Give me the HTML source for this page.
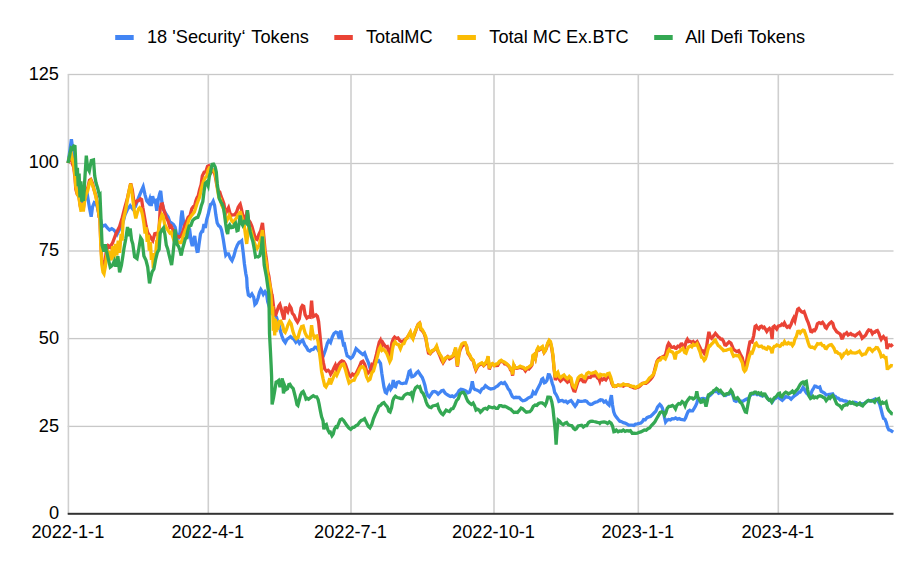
<!DOCTYPE html>
<html><head><meta charset="utf-8"><title>Chart</title>
<style>html,body{margin:0;padding:0;background:#fff;}body{width:922px;height:570px;position:relative;overflow:hidden;font-family:"Liberation Sans",sans-serif;}</style>
</head><body>
<svg width="922" height="570" viewBox="0 0 922 570" style="position:absolute;left:0;top:0;font-family:'Liberation Sans',sans-serif;font-size:18.2px;fill:#000">
<rect width="922" height="570" fill="#fff"/>
<rect x="67.7" y="73.85" width="825.8000000000001" height="1.3" fill="#c8c8c8"/>
<rect x="67.7" y="162.85" width="825.8000000000001" height="1.3" fill="#c8c8c8"/>
<rect x="67.7" y="250.35" width="825.8000000000001" height="1.3" fill="#c8c8c8"/>
<rect x="67.7" y="337.95000000000005" width="825.8000000000001" height="1.3" fill="#c8c8c8"/>
<rect x="67.7" y="425.75" width="825.8000000000001" height="1.3" fill="#c8c8c8"/>
<rect x="67.60000000000001" y="74.5" width="1.6" height="439.29999999999995" fill="#cfcfcf"/>
<rect x="207.5" y="74.5" width="1.6" height="439.29999999999995" fill="#cfcfcf"/>
<rect x="350.2" y="74.5" width="1.6" height="439.29999999999995" fill="#cfcfcf"/>
<rect x="493.2" y="74.5" width="1.6" height="439.29999999999995" fill="#cfcfcf"/>
<rect x="637.5" y="74.5" width="1.6" height="439.29999999999995" fill="#cfcfcf"/>
<rect x="777.5" y="74.5" width="1.6" height="439.29999999999995" fill="#cfcfcf"/>
<g fill="none" stroke-width="3.3" stroke-linejoin="miter" stroke-miterlimit="4.0" stroke-linecap="butt">
<path stroke="#4285f4" d="M68.1,163.0 L70.2,148.3 L71.4,139.1 L72.6,148.3 L74.0,152.4 L75.4,169.3 L76.7,182.5 L78.4,188.3 L80.2,197.6 L81.4,202.7 L82.8,205.1 L84.6,200.8 L86.3,188.3 L88.1,199.6 L89.5,208.0 L91.2,216.7 L92.5,207.0 L94.3,202.6 L96.0,203.5 L97.7,208.3 L99.5,216.8 L100.7,219.9 L102.0,226.9 L103.0,225.8 L105.3,225.2 L107.4,227.9 L109.5,229.9 L111.8,228.7 L113.5,229.7 L115.3,231.6 L117.0,234.4 L119.6,229.3 L122.3,225.0 L124.9,215.1 L127.5,209.3 L130.2,205.7 L132.8,209.1 L135.4,206.6 L138.1,198.8 L140.7,192.5 L143.2,186.7 L145.1,195.1 L146.8,201.0 L148.5,203.0 L149.8,199.1 L151.2,205.9 L152.6,196.2 L154.0,201.4 L155.3,200.6 L156.8,210.8 L158.2,200.1 L159.6,194.0 L160.7,190.9 L161.9,202.2 L163.7,209.7 L166.3,214.5 L168.1,217.1 L169.8,221.7 L171.6,223.0 L173.3,224.3 L175.1,227.1 L176.8,235.3 L178.5,237.5 L180.0,232.5 L181.2,216.9 L182.1,210.6 L183.0,217.6 L184.3,227.8 L185.5,228.3 L187.0,233.4 L188.2,236.0 L190.0,232.5 L191.2,241.8 L192.3,246.1 L193.5,239.8 L194.7,235.9 L195.8,244.7 L197.1,251.4 L198.1,251.3 L199.3,242.2 L200.5,233.9 L201.9,231.3 L202.7,231.2 L204.0,224.0 L205.3,227.9 L206.7,219.5 L208.1,214.8 L209.3,209.5 L210.6,204.4 L211.9,203.7 L213.2,201.2 L214.6,205.4 L215.8,214.6 L217.2,222.9 L218.6,225.6 L220.4,227.1 L221.6,230.1 L223.3,239.5 L224.6,248.0 L225.8,255.1 L226.9,253.8 L228.5,253.9 L230.4,258.5 L232.0,260.6 L233.9,255.9 L235.6,249.5 L237.4,244.9 L239.1,242.3 L239.8,241.9 L240.4,242.0 L241.7,240.8 L243.2,252.6 L244.4,263.7 L245.8,273.6 L246.7,277.9 L247.2,287.6 L248.4,295.0 L250.1,296.3 L251.9,294.0 L253.7,297.2 L254.9,304.5 L256.3,303.1 L258.1,298.0 L259.5,292.4 L260.8,289.5 L261.9,291.3 L263.3,294.4 L265.1,291.7 L266.5,293.6 L267.7,301.7 L269.5,307.4 L271.2,311.2 L273.0,314.4 L274.7,315.3 L276.5,317.1 L277.7,321.6 L279.1,325.2 L280.5,331.4 L281.8,335.8 L283.5,340.2 L285.3,342.6 L287.0,339.3 L288.8,338.0 L290.5,336.6 L292.3,338.3 L294.0,339.4 L295.8,342.2 L297.5,340.0 L299.4,343.3 L301.1,341.2 L302.7,340.0 L304.6,344.7 L306.3,346.9 L308.1,350.3 L309.8,351.1 L311.6,349.5 L313.3,349.4 L315.1,347.2 L316.7,347.3 L318.6,350.9 L320.4,352.0 L322.1,352.9 L323.8,354.7 L325.6,349.4 L327.4,343.1 L328.7,340.7 L329.8,341.7 L330.5,342.5 L332.3,337.0 L334.0,333.6 L335.8,332.1 L337.5,332.8 L339.3,338.7 L340.7,330.6 L341.9,336.9 L343.4,344.5 L344.4,344.1 L346.0,351.3 L347.2,356.0 L348.9,356.9 L350.7,358.4 L352.5,357.0 L354.2,353.6 L356.1,348.6 L357.7,350.1 L359.5,351.8 L361.2,353.3 L362.9,354.6 L364.6,352.9 L366.5,358.1 L368.2,362.1 L370.0,367.8 L371.7,368.7 L373.5,365.2 L375.3,363.0 L377.0,361.6 L378.7,360.7 L380.5,363.3 L381.8,373.3 L382.8,379.8 L384.0,387.2 L385.3,392.3 L386.5,393.1 L388.1,388.1 L389.2,386.1 L390.6,389.3 L391.9,387.3 L393.3,380.0 L394.6,386.1 L395.7,386.7 L397.3,382.3 L398.9,381.8 L400.7,383.3 L402.5,383.6 L404.2,383.2 L405.9,383.2 L407.7,377.4 L409.1,371.6 L410.2,370.8 L411.8,376.8 L413.0,376.5 L414.7,375.3 L416.5,372.9 L418.2,371.4 L419.8,373.8 L420.5,375.0 L422.3,377.6 L423.7,381.2 L424.9,385.2 L426.1,390.9 L427.5,395.3 L429.3,396.9 L431.1,394.2 L432.8,391.8 L434.6,391.4 L436.3,392.2 L438.1,394.1 L439.8,392.6 L441.6,390.8 L443.3,390.4 L445.1,393.0 L446.8,394.4 L448.6,395.5 L450.4,396.5 L452.1,395.8 L453.9,396.9 L455.6,395.5 L457.4,393.7 L459.1,390.6 L460.9,389.3 L462.6,389.7 L464.4,390.3 L466.1,391.2 L467.9,392.8 L469.6,392.1 L471.1,387.9 L472.3,381.3 L473.5,387.8 L474.9,389.6 L476.7,390.0 L478.4,390.8 L480.1,392.1 L481.9,389.0 L483.7,388.1 L485.4,385.7 L487.2,387.1 L488.9,388.3 L490.7,389.1 L492.5,388.6 L494.2,388.3 L496.0,386.8 L497.7,385.9 L499.5,383.9 L501.2,382.6 L503.0,383.6 L504.6,382.6 L506.5,385.4 L508.2,388.9 L509.8,390.7 L510.5,392.6 L512.3,396.5 L514.0,397.8 L515.8,397.3 L517.5,397.5 L519.3,397.4 L521.1,399.5 L522.8,400.7 L524.6,400.4 L526.3,399.6 L528.1,398.1 L529.8,397.3 L531.5,396.6 L533.1,392.2 L534.3,393.8 L535.3,393.9 L536.8,390.5 L538.6,386.9 L540.4,383.5 L541.8,379.3 L542.8,378.6 L544.4,382.7 L545.6,382.1 L547.0,380.3 L548.3,374.7 L549.4,374.8 L550.9,378.4 L552.3,383.5 L553.5,386.7 L554.7,392.6 L556.1,394.5 L557.5,397.3 L558.9,401.3 L560.5,400.7 L562.3,400.4 L564.0,401.7 L565.8,401.2 L567.5,402.8 L569.3,401.3 L571.0,400.5 L572.3,402.2 L573.7,404.4 L575.1,406.3 L576.3,404.7 L578.2,400.8 L579.8,401.4 L581.6,401.3 L583.3,401.1 L585.1,400.8 L586.8,401.5 L588.6,403.5 L590.4,404.5 L592.1,404.1 L593.9,402.9 L595.6,402.2 L597.4,401.8 L599.1,400.5 L599.8,400.7 L600.6,399.7 L602.3,400.0 L604.0,402.1 L605.7,401.0 L607.5,403.7 L609.1,405.2 L610.7,398.3 L611.4,395.1 L612.5,405.0 L613.7,411.8 L614.9,415.0 L616.3,416.9 L618.1,419.3 L619.8,421.2 L621.6,421.7 L623.3,422.7 L625.1,423.1 L626.8,423.9 L628.6,425.2 L630.4,425.2 L632.1,425.1 L633.9,425.4 L635.6,424.1 L637.4,423.8 L639.1,423.4 L640.9,423.0 L642.3,421.8 L643.6,419.6 L645.3,419.8 L647.0,417.6 L648.8,416.9 L650.5,416.4 L652.3,414.8 L654.0,413.0 L655.8,411.3 L657.5,407.2 L658.8,405.6 L659.8,404.4 L661.1,405.8 L662.3,408.0 L663.3,411.1 L664.6,417.8 L665.6,422.0 L666.8,420.4 L668.6,419.5 L670.4,419.9 L672.1,418.7 L673.9,418.9 L675.6,417.9 L677.4,419.2 L679.1,418.6 L680.9,419.3 L682.6,419.7 L684.3,419.9 L685.6,417.9 L686.8,414.7 L688.2,411.3 L689.7,410.3 L690.3,410.9 L691.4,410.9 L692.6,410.8 L694.0,408.7 L695.4,406.3 L696.7,403.3 L697.9,399.6 L699.3,398.8 L700.7,399.7 L701.9,398.6 L703.2,398.4 L704.6,398.8 L706.2,399.7 L708.1,396.5 L709.8,395.7 L711.6,393.9 L713.3,391.7 L715.1,391.7 L716.7,391.0 L718.6,393.3 L720.4,392.4 L722.1,393.3 L723.9,395.3 L725.6,395.5 L727.4,394.2 L729.1,394.1 L730.9,392.6 L732.6,394.3 L734.4,400.5 L736.1,401.4 L737.9,400.4 L739.6,400.9 L741.4,401.2 L743.2,401.2 L744.9,400.0 L746.7,399.0 L748.3,399.2 L750.2,395.6 L751.9,393.9 L753.7,394.1 L755.4,393.3 L757.2,394.6 L758.9,394.1 L760.7,395.5 L762.5,396.1 L764.2,395.4 L766.0,396.0 L767.7,398.6 L769.1,400.2 L770.4,400.8 L772.1,402.3 L773.9,399.4 L775.6,398.5 L777.4,396.4 L779.8,398.4 L780.5,399.0 L782.3,400.4 L784.0,398.7 L785.8,396.7 L787.5,397.2 L789.3,397.5 L791.1,399.2 L792.5,397.7 L793.7,396.5 L794.9,395.5 L796.3,394.7 L797.7,393.6 L798.9,392.2 L800.1,392.2 L801.6,390.0 L803.0,387.5 L804.2,389.0 L805.4,391.3 L806.8,393.3 L808.2,394.6 L809.5,395.4 L810.7,394.6 L812.1,390.6 L813.5,388.3 L814.8,386.0 L816.0,386.2 L817.4,387.3 L818.8,387.6 L819.8,387.1 L821.2,391.3 L822.6,392.0 L824.4,393.0 L826.1,394.9 L827.9,394.7 L829.6,394.4 L831.4,394.1 L832.7,393.9 L834.1,396.3 L835.3,396.4 L836.7,397.9 L838.4,398.3 L840.2,400.0 L841.9,400.0 L843.7,400.9 L845.4,401.0 L847.2,401.5 L848.9,402.8 L850.7,403.1 L852.5,403.0 L854.2,402.2 L856.0,402.5 L857.7,403.6 L859.5,404.4 L861.2,403.8 L863.0,404.0 L864.7,403.1 L866.5,401.8 L868.2,400.5 L869.8,400.8 L870.9,401.1 L871.8,400.4 L873.5,399.7 L875.3,398.9 L877.0,400.5 L878.2,401.2 L879.6,404.1 L881.1,409.5 L882.3,414.4 L883.5,418.4 L884.9,419.1 L886.3,422.4 L887.5,427.3 L888.8,429.9 L890.2,430.2 L891.8,431.3 L892.8,429.9"/>
<path stroke="#ea4335" d="M68.1,163.0 L70.2,156.7 L71.2,153.6 L72.3,163.6 L73.7,167.2 L74.9,176.7 L75.8,189.2 L77.2,194.2 L78.9,196.1 L80.2,205.8 L81.1,209.4 L82.1,204.4 L83.3,208.7 L84.6,198.7 L86.0,192.9 L87.7,188.1 L89.5,180.2 L90.8,179.4 L92.5,183.3 L94.2,190.4 L96.0,196.0 L97.7,206.1 L99.1,216.6 L99.8,216.7 L100.7,240.0 L101.8,259.7 L103.0,263.2 L104.1,265.0 L105.3,260.0 L106.3,251.0 L108.3,245.8 L110.0,247.2 L112.6,242.9 L116.1,233.4 L119.6,226.4 L122.3,217.4 L124.9,207.2 L127.5,197.9 L130.7,183.3 L132.3,189.7 L133.7,200.1 L135.2,203.8 L136.9,200.9 L138.6,200.6 L140.4,198.9 L141.6,199.6 L142.8,207.5 L144.2,215.3 L146.0,225.7 L147.7,232.7 L149.5,235.3 L151.2,238.4 L152.8,240.6 L154.8,233.7 L156.4,233.3 L157.7,235.1 L159.1,228.4 L160.2,208.8 L161.2,204.1 L162.4,203.9 L163.7,209.8 L164.9,213.2 L166.3,217.9 L168.1,221.0 L169.9,227.3 L171.2,226.3 L172.5,229.2 L174.2,234.4 L176.1,237.8 L177.7,236.2 L179.5,237.0 L181.2,235.8 L183.0,231.0 L184.7,225.6 L186.5,221.4 L188.2,217.3 L190.0,215.6 L191.8,208.8 L193.1,206.9 L194.2,207.3 L195.8,201.0 L197.0,197.8 L198.2,195.9 L199.6,189.6 L201.1,184.7 L202.3,175.9 L204.1,172.2 L205.7,172.0 L207.5,166.4 L208.7,165.7 L210.2,168.7 L211.6,171.8 L212.9,170.0 L213.9,170.4 L215.4,177.0 L216.8,185.1 L218.1,190.3 L219.8,192.1 L221.1,196.5 L222.5,199.9 L223.9,203.7 L225.1,211.1 L226.0,212.7 L227.4,209.7 L228.5,207.7 L229.8,212.5 L231.3,215.4 L233.0,214.8 L234.7,214.8 L236.5,212.2 L238.2,207.2 L239.8,204.7 L240.2,204.2 L241.4,208.9 L242.6,214.6 L244.0,217.8 L245.6,219.1 L247.2,210.4 L248.4,219.7 L250.2,222.3 L251.9,226.4 L253.7,232.6 L255.4,238.8 L257.1,239.6 L258.9,234.4 L260.7,230.6 L262.5,223.0 L263.7,235.2 L265.1,250.7 L266.5,259.9 L267.7,271.1 L268.9,276.2 L270.4,286.9 L271.8,294.5 L272.1,294.9 L273.5,306.3 L274.7,313.9 L275.9,314.6 L277.4,310.1 L278.8,306.1 L279.9,304.5 L281.2,309.0 L282.6,314.4 L284.0,319.5 L285.3,306.6 L286.5,309.6 L287.8,311.7 L289.7,305.9 L291.1,308.1 L292.3,313.3 L294.0,315.1 L295.8,319.4 L297.5,322.1 L299.3,318.8 L301.1,307.8 L302.4,305.5 L303.7,306.3 L305.1,314.6 L306.9,318.1 L308.6,316.9 L310.2,317.3 L311.6,300.6 L312.5,312.1 L313.5,316.5 L314.6,315.9 L316.0,314.9 L317.4,316.4 L318.6,321.5 L319.8,333.3 L320.9,344.6 L322.1,355.4 L323.3,362.4 L324.7,368.9 L326.5,371.2 L328.2,370.2 L329.8,371.8 L330.7,374.2 L332.3,371.7 L334.0,367.8 L335.3,365.3 L336.7,370.2 L338.4,364.4 L340.2,362.1 L341.9,360.8 L343.7,361.5 L345.4,364.5 L347.2,369.7 L348.9,374.6 L350.7,376.5 L352.5,374.0 L354.2,375.3 L356.0,373.6 L357.7,370.1 L359.5,366.5 L361.2,362.1 L362.9,361.2 L364.7,364.3 L366.5,370.8 L368.2,373.0 L370.0,371.0 L371.9,364.4 L373.4,365.3 L375.3,358.9 L376.5,354.2 L377.9,347.8 L379.3,342.1 L380.4,340.2 L381.8,345.5 L382.9,342.7 L384.0,344.5 L385.8,346.9 L387.3,346.5 L389.3,355.1 L390.5,351.2 L391.9,343.0 L393.3,338.8 L394.6,337.1 L396.3,338.5 L398.0,337.9 L399.8,340.6 L401.6,341.8 L403.3,340.9 L405.1,339.3 L406.8,338.1 L408.6,335.5 L410.3,332.4 L411.6,336.2 L412.9,338.1 L414.4,334.4 L415.6,331.0 L416.8,327.7 L418.2,324.2 L419.5,323.1 L420.0,324.9 L420.9,329.6 L422.3,330.8 L424.0,333.2 L425.8,338.4 L427.2,346.6 L428.5,353.0 L430.2,353.8 L431.9,351.6 L433.7,350.2 L435.4,348.6 L436.6,347.2 L438.1,351.8 L439.8,355.7 L441.6,360.4 L443.0,362.8 L444.2,360.8 L446.0,357.9 L447.7,356.6 L449.5,358.8 L451.2,357.9 L453.0,356.3 L454.7,351.6 L455.6,348.8 L456.5,359.5 L457.4,366.5 L458.8,354.7 L460.0,350.4 L461.8,346.5 L463.5,344.8 L465.3,344.4 L466.5,346.0 L467.9,353.4 L469.6,355.7 L471.4,359.1 L473.2,360.7 L474.6,366.3 L475.9,370.0 L477.0,367.8 L478.4,365.7 L480.2,364.4 L481.9,363.6 L483.7,365.6 L485.4,364.1 L486.8,363.1 L488.1,356.9 L489.3,369.4 L490.7,365.5 L492.5,364.0 L494.2,365.7 L496.0,365.7 L497.7,365.5 L499.5,362.2 L501.2,361.5 L503.0,361.6 L504.7,363.9 L506.5,364.2 L508.2,365.7 L509.8,367.6 L510.5,369.9 L511.8,370.8 L512.6,375.7 L513.7,364.7 L515.0,367.9 L516.7,368.3 L518.4,367.8 L520.2,367.3 L521.9,368.1 L523.7,368.4 L525.4,370.8 L527.3,368.2 L528.9,368.9 L530.7,366.9 L531.9,365.2 L533.0,356.5 L534.1,355.1 L535.4,358.4 L536.8,351.2 L538.2,348.4 L539.6,349.9 L541.2,348.8 L542.4,347.7 L544.1,352.4 L545.3,350.7 L546.5,347.9 L547.7,343.8 L549.1,341.2 L550.5,343.1 L551.8,348.8 L553.0,356.8 L554.0,368.1 L555.3,380.1 L556.5,377.0 L557.8,376.1 L559.3,379.5 L560.5,381.1 L562.3,379.3 L564.0,378.5 L565.8,380.4 L567.5,382.2 L569.3,380.6 L571.1,381.9 L572.3,386.8 L573.8,390.9 L575.0,391.1 L576.3,387.0 L578.1,381.3 L579.8,379.7 L581.6,379.4 L583.3,381.6 L585.0,381.7 L586.8,378.2 L588.6,377.2 L590.4,377.5 L592.1,375.4 L593.9,375.9 L595.5,374.7 L597.4,377.8 L599.1,379.1 L599.8,381.0 L600.7,378.0 L602.4,379.8 L604.0,378.6 L605.8,379.9 L607.5,377.1 L609.2,375.9 L610.7,379.1 L611.9,383.7 L613.3,386.2 L614.6,385.9 L616.3,386.3 L618.1,385.0 L619.8,385.5 L621.6,385.4 L623.3,386.1 L625.1,385.1 L626.8,384.6 L628.6,385.1 L630.4,386.4 L632.1,387.0 L633.9,387.8 L635.6,388.0 L637.4,387.3 L639.1,386.8 L640.9,385.0 L642.6,383.4 L644.4,383.1 L646.1,383.3 L647.9,382.0 L650.5,379.5 L652.3,377.1 L653.5,374.9 L654.6,370.2 L655.8,365.4 L657.0,361.1 L658.4,359.1 L660.2,357.7 L661.9,357.3 L663.7,356.3 L665.0,356.5 L666.3,351.8 L667.5,345.8 L668.7,343.3 L669.8,344.6 L671.1,347.2 L672.5,347.4 L673.9,346.8 L675.1,348.0 L676.2,348.3 L677.8,346.3 L679.4,346.9 L681.0,344.1 L682.0,344.0 L683.3,346.3 L684.5,347.7 L686.1,341.7 L687.4,339.4 L688.7,341.6 L689.8,341.2 L690.5,341.4 L691.9,342.5 L693.2,341.5 L694.5,343.0 L695.8,342.7 L697.1,341.6 L698.4,344.2 L700.2,347.8 L701.5,351.2 L702.7,350.9 L704.2,353.3 L705.4,351.2 L706.7,346.2 L707.7,338.9 L708.9,331.8 L710.2,336.9 L711.6,338.3 L713.0,336.6 L714.2,335.1 L715.4,333.4 L716.8,335.0 L718.2,336.8 L719.5,337.7 L720.7,339.1 L722.1,339.1 L723.5,341.3 L724.8,344.9 L726.0,345.2 L727.4,343.7 L729.1,341.9 L730.9,343.1 L732.3,346.4 L733.5,349.4 L735.3,350.6 L737.0,351.6 L738.7,350.8 L740.5,354.5 L742.3,357.8 L743.5,363.6 L744.7,367.3 L745.8,365.6 L747.0,358.2 L748.4,349.5 L749.9,341.9 L751.1,341.4 L752.1,341.9 L753.7,335.6 L755.1,326.5 L756.2,325.7 L757.5,328.0 L758.8,329.1 L760.4,326.6 L761.5,326.2 L762.9,327.8 L764.1,327.2 L765.6,329.4 L766.8,331.4 L768.1,329.6 L769.5,328.3 L770.9,330.0 L772.1,339.0 L773.0,327.2 L774.4,326.1 L775.6,327.7 L776.7,329.0 L778.2,326.2 L779.8,325.6 L780.5,325.6 L781.9,324.2 L783.1,325.0 L784.4,322.9 L785.8,325.7 L787.2,327.2 L788.4,326.3 L789.6,327.2 L791.1,324.3 L792.5,320.3 L793.7,317.9 L794.9,320.8 L796.3,314.4 L797.7,309.3 L798.8,308.5 L800.2,310.4 L801.6,311.9 L803.0,312.4 L804.1,311.7 L805.4,315.2 L806.8,319.5 L808.2,322.5 L809.5,326.6 L810.8,331.5 L812.0,331.8 L813.5,330.1 L814.6,330.6 L816.0,328.5 L817.4,323.7 L819.1,322.6 L820.9,323.6 L822.6,322.3 L824.0,324.2 L825.3,327.5 L826.4,328.3 L827.9,325.5 L829.6,323.4 L831.4,321.9 L832.8,323.3 L834.0,327.8 L835.3,329.6 L836.7,331.7 L838.4,332.8 L840.2,334.0 L841.7,338.2 L842.7,338.0 L844.1,334.2 L845.4,333.9 L846.7,332.7 L848.2,335.0 L849.3,334.4 L850.7,333.6 L852.1,334.8 L853.3,334.8 L855.1,335.9 L856.8,334.4 L858.6,333.2 L859.4,332.5 L860.9,335.1 L862.2,338.2 L863.9,336.8 L865.6,335.2 L867.4,331.7 L868.7,330.0 L869.8,330.4 L870.8,330.4 L872.4,333.7 L873.6,332.2 L874.7,332.3 L876.1,331.0 L877.4,330.5 L878.8,333.1 L880.0,336.7 L881.2,339.4 L882.3,337.7 L883.4,336.6 L885.0,338.9 L886.0,338.5 L887.0,348.9 L888.1,346.1 L889.3,345.0 L891.1,345.8 L892.8,344.2"/>
<path stroke="#fbbc04" d="M68.1,163.0 L70.2,153.6 L71.1,152.4 L72.3,159.2 L73.7,164.5 L74.9,174.6 L75.8,186.5 L77.2,193.6 L78.9,197.2 L80.2,206.6 L81.1,211.6 L82.1,203.3 L83.3,211.6 L84.6,201.0 L86.0,194.7 L87.7,190.7 L89.5,182.2 L90.8,180.6 L92.5,185.1 L94.2,190.2 L96.0,197.5 L97.7,206.2 L99.1,216.0 L99.8,215.8 L100.7,243.3 L101.8,264.6 L103.0,272.1 L104.0,273.7 L105.3,266.8 L106.3,258.8 L107.4,249.6 L108.4,260.1 L109.8,251.0 L111.2,260.4 L112.6,246.2 L114.0,258.6 L115.4,244.0 L116.8,255.3 L118.2,240.6 L119.6,252.8 L121.1,233.9 L122.1,240.6 L123.2,220.6 L125.8,209.5 L128.4,193.9 L130.7,183.7 L131.9,192.1 L133.3,203.2 L134.6,212.7 L135.8,218.4 L137.2,213.1 L138.6,208.9 L139.8,207.6 L141.1,209.0 L142.5,214.8 L143.9,223.5 L145.1,233.5 L146.1,227.2 L147.2,241.9 L148.2,234.9 L149.3,250.6 L150.4,242.1 L151.4,259.9 L152.5,253.1 L153.3,268.4 L154.4,254.1 L155.4,257.6 L156.7,241.6 L157.3,241.6 L158.6,229.6 L159.6,223.2 L160.2,219.9 L162.0,214.7 L163.2,216.5 L164.6,224.0 L166.3,227.6 L168.1,230.7 L169.8,233.0 L171.1,232.1 L172.5,235.9 L174.2,241.0 L176.0,243.0 L177.7,241.3 L179.5,242.7 L181.1,242.7 L183.0,236.8 L184.7,232.1 L186.5,227.5 L189.1,219.3 L191.8,215.2 L194.4,211.9 L197.0,203.7 L199.6,197.0 L201.4,188.9 L203.2,182.4 L204.9,178.2 L206.7,176.2 L208.1,170.2 L209.4,167.8 L210.5,168.0 L211.9,169.7 L213.7,170.4 L215.1,173.0 L216.3,179.1 L217.5,189.7 L218.9,197.5 L220.4,198.9 L221.6,204.9 L222.8,207.3 L224.2,210.3 L225.6,218.8 L226.8,220.6 L228.1,218.0 L229.2,215.3 L230.4,217.5 L231.6,220.6 L233.0,222.2 L234.7,220.2 L236.5,217.9 L238.2,214.4 L239.8,212.9 L240.2,211.2 L241.4,215.7 L242.6,220.3 L244.0,223.6 L245.4,234.5 L246.7,243.9 L247.5,237.0 L248.7,227.2 L250.2,228.3 L251.9,234.2 L253.7,240.6 L255.4,245.2 L257.2,248.4 L258.9,245.6 L260.7,238.9 L262.5,230.2 L263.7,242.2 L265.1,256.5 L266.5,263.9 L267.7,274.8 L268.9,280.6 L270.4,287.9 L271.2,298.8 L271.9,314.8 L272.6,306.4 L273.3,330.8 L274.0,317.6 L274.7,335.4 L275.4,319.0 L276.1,332.1 L276.8,321.7 L277.7,329.6 L279.2,321.7 L280.8,321.3 L282.6,325.1 L284.0,331.1 L285.2,332.3 L286.5,329.4 L287.9,325.0 L289.6,321.5 L291.1,323.7 L292.8,331.0 L294.6,336.3 L296.3,338.7 L298.1,337.2 L299.8,331.1 L301.6,326.5 L303.2,326.0 L305.1,333.0 L306.8,336.3 L308.6,337.7 L310.1,338.5 L311.6,325.3 L312.8,333.5 L314.3,337.6 L315.6,336.2 L316.7,336.0 L318.1,341.7 L319.1,350.1 L320.4,360.3 L321.6,371.5 L323.0,378.3 L324.7,385.6 L326.0,387.0 L327.4,384.3 L328.6,382.5 L329.8,378.1 L330.5,384.4 L332.3,379.8 L334.0,375.7 L335.3,373.2 L336.7,375.3 L338.4,371.6 L340.2,367.3 L341.9,364.6 L343.6,364.1 L345.4,369.7 L347.2,376.6 L349.1,382.9 L350.7,381.7 L352.5,380.5 L354.1,380.2 L356.0,375.9 L357.7,373.6 L359.5,369.4 L361.2,366.9 L363.0,366.8 L364.7,369.2 L366.5,376.8 L368.3,380.5 L370.0,379.2 L371.8,372.9 L373.5,370.9 L375.3,364.6 L376.5,359.8 L377.9,354.4 L379.3,348.8 L380.4,346.8 L381.9,350.3 L383.3,349.2 L384.9,350.8 L386.7,353.4 L388.4,357.6 L389.8,361.6 L391.1,359.1 L392.3,350.2 L393.7,343.7 L395.1,341.8 L396.8,344.2 L398.5,344.5 L400.4,348.7 L402.2,344.2 L403.9,343.6 L405.6,339.6 L407.4,337.7 L409.1,334.2 L410.3,332.1 L411.6,336.7 L412.9,338.8 L414.4,333.0 L415.6,330.5 L416.8,327.5 L418.2,324.7 L419.8,323.1 L420.0,323.3 L420.9,328.8 L422.3,329.6 L424.0,332.8 L425.8,336.8 L427.2,346.0 L428.4,350.6 L430.2,353.0 L431.9,350.6 L433.7,350.0 L435.4,348.3 L436.6,346.0 L438.1,351.0 L439.8,354.1 L441.6,357.0 L443.1,361.3 L444.2,359.6 L446.0,357.7 L447.7,356.9 L449.5,357.1 L451.2,356.8 L453.0,355.5 L454.7,351.3 L455.6,347.5 L456.5,357.5 L457.4,365.7 L458.8,354.7 L460.0,348.5 L461.8,344.0 L463.5,342.9 L465.2,342.8 L466.5,346.2 L467.9,352.4 L469.6,354.7 L471.4,358.6 L473.2,360.2 L474.6,365.0 L475.9,368.7 L477.0,366.7 L478.4,364.7 L480.2,363.6 L481.8,362.8 L483.7,364.9 L485.4,362.9 L486.8,360.9 L488.1,356.1 L489.3,368.4 L490.7,364.4 L492.5,363.5 L494.2,365.5 L496.0,364.1 L497.7,363.7 L499.5,361.2 L501.2,360.3 L503.0,361.6 L504.7,362.3 L506.5,363.6 L508.2,365.1 L509.8,367.2 L510.5,369.0 L511.8,369.6 L512.6,374.6 L513.7,364.8 L515.0,367.7 L516.7,367.6 L518.4,367.3 L520.2,366.1 L521.9,366.9 L523.7,367.5 L525.4,369.1 L527.2,367.8 L528.9,366.9 L530.7,365.5 L531.9,364.2 L533.0,355.2 L534.1,354.5 L535.4,358.1 L536.8,350.1 L538.2,347.5 L539.6,349.1 L541.2,347.4 L542.4,346.5 L544.1,352.2 L545.3,350.9 L546.5,347.0 L547.7,343.2 L549.2,340.3 L550.5,341.5 L551.8,347.5 L553.0,355.4 L554.0,367.5 L555.3,377.4 L556.5,373.6 L557.8,372.2 L559.3,376.7 L560.5,377.7 L562.3,376.1 L564.0,375.0 L565.8,377.4 L567.4,378.7 L569.3,376.4 L571.1,378.1 L572.3,384.4 L573.7,386.8 L574.9,387.7 L576.3,383.5 L578.1,377.9 L579.8,376.2 L581.6,375.3 L583.3,377.0 L585.0,378.0 L586.8,373.7 L588.6,372.5 L590.4,373.3 L592.1,373.2 L593.9,372.7 L595.5,371.8 L597.4,374.4 L599.1,376.9 L599.8,376.6 L600.6,374.4 L602.3,375.1 L604.0,374.8 L605.8,375.9 L607.5,373.8 L609.2,373.3 L610.7,377.1 L611.9,381.6 L613.2,385.6 L614.6,386.5 L616.3,385.7 L618.1,385.0 L619.8,385.5 L621.6,385.3 L623.3,383.9 L625.1,384.8 L626.8,384.7 L628.6,385.5 L630.4,385.7 L632.1,386.4 L633.9,386.4 L635.6,387.7 L637.4,386.4 L639.1,385.8 L640.9,384.3 L642.6,383.7 L644.4,382.8 L646.1,382.3 L647.9,380.3 L649.6,377.9 L651.4,376.5 L653.2,374.6 L654.6,371.5 L655.8,367.6 L657.0,362.3 L658.4,360.5 L660.2,360.1 L661.9,357.5 L663.7,357.7 L665.3,358.9 L666.8,355.4 L668.1,351.1 L669.3,349.6 L670.7,351.4 L672.5,352.1 L673.9,354.4 L675.1,359.4 L676.4,352.8 L677.7,352.4 L679.5,351.5 L681.2,349.6 L682.9,348.3 L684.7,352.6 L686.0,353.2 L687.4,349.2 L688.6,346.9 L689.8,346.3 L690.5,346.0 L691.8,346.9 L693.3,344.5 L694.4,345.3 L695.8,344.9 L697.0,343.9 L698.4,347.9 L700.2,352.5 L701.5,357.2 L702.8,357.7 L704.2,360.3 L705.4,358.9 L706.7,354.9 L707.7,350.2 L709.1,345.7 L710.1,345.9 L711.6,343.9 L713.0,342.9 L714.2,340.6 L715.3,339.9 L716.8,343.1 L718.2,345.6 L719.5,346.4 L720.7,347.7 L722.1,349.0 L723.5,350.6 L724.7,350.3 L726.0,350.4 L727.4,349.8 L729.1,349.2 L730.8,348.7 L732.3,353.3 L733.6,356.2 L735.3,355.3 L737.0,355.9 L738.7,355.5 L740.5,359.0 L742.3,362.8 L743.5,369.5 L744.6,371.3 L745.8,370.0 L747.0,365.9 L748.4,359.7 L749.8,354.9 L751.2,352.4 L752.2,352.9 L753.7,348.9 L755.1,343.7 L756.2,343.0 L757.5,345.5 L758.9,346.5 L760.4,346.3 L761.5,346.0 L762.9,347.7 L764.2,347.5 L765.6,348.9 L766.7,349.3 L768.2,347.0 L769.5,347.4 L770.9,349.5 L772.1,353.3 L773.0,348.2 L774.4,346.3 L775.6,346.1 L776.8,344.9 L778.2,345.6 L779.8,346.3 L780.5,345.9 L781.9,343.9 L783.0,344.4 L784.5,341.6 L785.8,343.8 L787.1,344.0 L788.4,342.7 L789.6,343.7 L791.0,343.3 L792.5,345.6 L793.7,343.8 L794.9,339.1 L796.3,336.6 L797.8,331.4 L798.8,331.2 L800.2,333.0 L801.6,331.3 L803.0,330.2 L804.2,330.6 L805.4,333.8 L806.8,338.1 L808.2,342.6 L809.5,346.2 L810.7,347.2 L812.1,347.0 L813.5,347.7 L814.6,348.4 L816.0,346.2 L817.5,343.6 L819.1,344.0 L820.9,343.4 L822.6,345.7 L823.9,345.7 L825.3,348.3 L826.4,348.6 L827.9,346.1 L829.6,345.1 L831.4,344.6 L832.8,346.5 L834.0,348.3 L835.4,352.0 L836.7,351.8 L838.4,353.5 L840.1,353.9 L841.7,357.4 L842.8,356.1 L844.1,353.3 L845.3,353.2 L846.7,351.1 L848.2,353.7 L849.3,353.1 L850.7,351.4 L852.1,352.9 L853.3,352.8 L855.1,353.1 L856.8,352.6 L858.6,351.7 L859.4,351.1 L860.9,353.6 L862.1,355.1 L863.9,354.1 L865.5,354.0 L867.4,350.4 L868.6,348.4 L869.8,348.4 L870.9,349.8 L872.3,351.3 L873.5,349.9 L874.7,349.2 L876.1,347.5 L877.5,347.7 L878.8,350.0 L880.0,352.4 L881.3,356.8 L882.3,356.4 L883.4,355.7 L885.0,357.8 L886.0,357.6 L887.2,368.4 L888.1,368.5 L889.3,367.4 L891.1,365.5 L892.8,365.9"/>
<path stroke="#34a853" d="M68.1,163.0 L71.1,148.0 L72.3,148.8 L73.8,146.0 L75.0,146.4 L75.8,164.2 L76.5,175.8 L77.4,167.8 L78.2,186.2 L79.1,173.5 L80.0,197.5 L80.9,181.2 L81.8,201.8 L82.8,185.5 L83.5,200.8 L84.6,182.3 L86.3,155.6 L87.7,168.2 L89.3,171.1 L91.3,160.5 L93.5,159.9 L94.7,175.9 L96.0,182.8 L97.7,188.3 L99.6,196.1 L100.0,195.5 L101.2,223.6 L102.1,245.2 L103.9,251.6 L105.3,244.3 L106.5,250.8 L108.2,258.6 L110.2,267.1 L112.3,265.4 L114.3,261.1 L115.8,266.5 L117.9,256.2 L119.6,272.3 L121.4,265.5 L122.8,256.4 L124.0,248.3 L125.8,238.7 L127.5,227.1 L129.3,236.1 L130.2,228.5 L131.6,240.1 L132.8,243.9 L134.6,256.8 L137.0,258.6 L138.9,248.2 L140.6,237.8 L142.1,240.1 L143.9,256.1 L146.0,260.3 L147.7,267.0 L149.5,283.3 L150.9,276.5 L152.1,272.0 L153.9,269.0 L155.6,259.6 L157.4,252.4 L159.1,249.5 L160.2,233.3 L161.9,229.9 L163.5,227.9 L164.9,234.3 L166.3,245.2 L167.7,248.9 L168.9,254.2 L170.2,259.4 L171.6,265.0 L173.0,254.1 L174.2,241.8 L175.1,229.4 L176.0,237.8 L177.2,244.5 L178.6,246.4 L180.0,250.6 L181.2,255.5 L182.5,249.1 L183.9,244.0 L185.4,238.5 L186.4,237.9 L187.7,231.2 L189.2,226.0 L190.9,225.4 L192.6,220.6 L194.4,218.9 L196.1,217.8 L197.8,217.4 L199.6,212.6 L201.4,205.4 L202.8,201.7 L204.0,191.8 L205.3,183.3 L206.6,182.1 L208.1,185.7 L209.3,176.5 L210.5,172.4 L212.0,164.5 L213.6,164.2 L215.1,166.8 L216.3,171.9 L217.2,183.2 L218.1,190.5 L219.3,198.7 L220.7,201.8 L222.1,203.9 L223.3,207.0 L224.6,215.2 L225.6,223.4 L226.8,231.3 L227.7,234.1 L228.6,226.2 L229.7,224.8 L231.3,227.6 L233.0,227.2 L234.7,223.9 L235.5,223.1 L237.0,230.7 L238.1,230.3 L239.8,218.4 L240.2,215.5 L241.4,222.8 L242.6,225.2 L244.2,221.6 L245.4,222.2 L246.5,223.4 L247.5,210.2 L248.9,224.5 L250.2,231.6 L251.4,236.7 L252.8,241.2 L254.2,248.5 L255.6,256.9 L256.7,256.5 L258.1,257.0 L259.8,255.7 L261.2,248.8 L262.5,236.5 L263.3,251.8 L264.2,265.1 L265.4,271.4 L266.5,277.2 L267.7,285.9 L268.9,294.3 L269.5,333.5 L270.4,350.3 L271.1,364.6 L271.6,376.4 L272.1,404.5 L273.5,398.0 L274.7,390.9 L276.1,382.2 L277.4,381.6 L278.6,380.6 L280.0,387.2 L281.2,382.6 L282.3,378.4 L283.5,393.4 L284.7,385.7 L286.2,389.5 L287.5,388.7 L288.8,384.6 L289.9,384.2 L291.4,386.8 L293.2,388.5 L294.6,394.0 L295.8,398.9 L297.0,404.6 L297.9,405.4 L299.3,400.0 L300.5,395.2 L301.9,392.4 L303.2,391.5 L304.6,394.5 L306.0,399.0 L307.2,398.3 L308.6,399.2 L309.8,398.2 L311.6,396.9 L313.3,395.7 L315.1,396.8 L316.7,396.8 L318.1,399.6 L319.1,404.2 L320.4,411.1 L321.6,416.9 L323.0,420.7 L323.9,429.3 L325.1,425.1 L326.3,424.4 L327.9,430.0 L329.2,432.5 L330.3,432.1 L332.0,435.7 L333.2,434.1 L334.4,429.4 L335.9,426.8 L337.1,427.3 L338.4,424.1 L340.2,419.8 L341.9,419.0 L343.7,420.6 L345.4,423.3 L347.2,425.9 L348.9,428.0 L350.7,429.4 L352.5,427.6 L354.2,427.2 L356.0,425.6 L357.7,424.9 L359.5,422.3 L361.2,420.4 L363.0,419.9 L364.6,418.7 L366.5,422.6 L368.2,426.3 L369.9,427.8 L371.8,424.3 L373.5,418.5 L375.3,414.3 L377.0,410.9 L378.8,406.2 L380.5,405.4 L382.3,403.4 L383.9,402.6 L385.8,405.2 L387.5,407.1 L388.8,411.2 L390.1,412.0 L391.6,407.6 L392.8,400.7 L394.0,397.9 L395.4,396.2 L397.2,397.5 L398.9,397.9 L400.7,398.5 L402.4,398.6 L404.2,395.5 L406.0,394.1 L407.7,393.5 L409.5,394.1 L411.0,393.0 L412.6,397.8 L413.9,391.6 L415.6,387.8 L417.4,386.3 L419.0,387.5 L419.8,386.9 L420.2,388.0 L421.4,391.7 L423.2,393.5 L424.9,397.5 L426.1,401.8 L427.5,405.2 L429.3,407.1 L431.1,407.6 L432.8,405.9 L434.6,405.5 L436.3,405.2 L437.5,404.5 L438.9,409.1 L440.2,411.6 L441.6,413.5 L443.0,414.6 L444.2,413.0 L446.1,410.1 L447.7,411.0 L449.4,411.6 L451.2,409.0 L453.0,408.5 L454.7,405.2 L456.5,400.7 L458.2,398.9 L460.0,394.0 L461.8,392.5 L463.4,392.2 L465.3,395.1 L466.5,398.4 L467.9,401.2 L469.6,403.1 L471.4,404.5 L473.1,403.1 L474.6,406.0 L476.0,410.0 L477.5,409.1 L479.3,410.3 L480.5,412.2 L481.9,410.9 L483.7,408.8 L485.4,408.2 L487.1,409.1 L489.0,406.7 L490.7,407.2 L492.5,407.8 L494.2,407.2 L496.0,408.4 L497.7,408.4 L499.5,405.6 L501.2,405.7 L503.0,406.5 L504.7,406.3 L506.5,407.1 L508.2,408.0 L509.8,408.9 L510.5,409.0 L512.3,410.9 L514.0,412.5 L515.8,412.2 L517.5,412.4 L519.3,410.5 L521.1,408.1 L522.8,408.9 L524.6,410.8 L526.3,412.2 L528.1,411.8 L529.8,411.6 L531.6,409.8 L533.3,406.3 L535.1,405.1 L536.8,405.4 L538.6,403.5 L540.4,402.8 L542.1,402.9 L543.9,404.0 L545.2,405.4 L546.5,402.5 L547.8,397.2 L549.1,397.2 L550.4,397.4 L551.8,401.8 L553.0,408.8 L554.0,418.6 L555.3,431.1 L556.1,444.7 L557.0,431.3 L558.2,420.1 L559.6,421.2 L561.4,423.5 L563.2,424.7 L564.9,423.3 L566.7,422.6 L568.4,424.9 L570.2,425.4 L571.9,425.8 L573.7,428.5 L575.1,429.5 L576.3,428.8 L578.1,426.0 L579.8,425.5 L581.6,425.2 L583.3,427.0 L585.1,425.7 L586.7,425.7 L588.6,422.5 L590.4,421.4 L592.1,421.1 L593.9,421.5 L595.6,421.8 L597.4,422.3 L599.1,422.7 L599.8,423.4 L600.6,422.4 L602.3,422.1 L604.0,422.0 L605.8,422.4 L607.5,423.4 L609.3,421.9 L611.1,423.2 L612.5,425.9 L613.9,431.8 L614.9,431.6 L616.3,430.1 L618.1,431.7 L619.8,430.9 L621.6,431.2 L623.3,430.0 L625.1,431.3 L626.8,430.7 L628.6,431.0 L630.3,430.6 L632.2,433.3 L633.9,433.2 L635.6,433.4 L637.4,433.2 L639.1,432.3 L640.9,431.9 L642.6,431.0 L644.4,430.0 L646.1,430.3 L647.9,428.7 L649.6,428.0 L651.4,425.5 L653.2,423.8 L654.9,421.7 L656.7,418.5 L658.4,415.6 L660.2,412.4 L661.9,411.8 L663.3,412.4 L664.6,415.2 L665.8,413.1 L667.2,408.3 L668.9,406.4 L670.7,406.3 L672.5,405.4 L674.2,406.8 L675.5,408.8 L676.8,405.4 L678.6,403.5 L680.3,404.0 L682.1,401.6 L683.9,403.0 L685.1,405.8 L686.5,402.0 L688.2,399.6 L689.8,397.6 L690.5,397.9 L691.9,397.9 L693.2,399.0 L694.4,398.3 L695.8,396.6 L696.8,391.4 L697.9,397.5 L699.3,399.4 L700.8,402.3 L701.9,402.0 L703.3,399.9 L704.6,401.0 L706.0,406.6 L707.2,401.5 L708.4,394.9 L709.8,394.1 L711.2,392.9 L712.5,392.6 L713.7,390.5 L715.1,389.9 L716.5,388.5 L717.7,389.4 L718.9,391.1 L720.4,390.3 L721.8,392.4 L723.0,393.7 L724.2,395.2 L725.6,394.3 L727.0,393.6 L728.2,393.7 L729.5,392.5 L730.9,390.2 L732.3,392.2 L733.5,396.2 L734.7,398.5 L736.1,398.7 L737.5,397.8 L738.8,399.4 L740.0,402.1 L741.4,403.0 L742.8,405.6 L744.0,409.0 L745.3,411.9 L746.5,412.3 L748.1,403.5 L749.3,397.2 L750.6,393.6 L751.9,393.2 L753.3,393.3 L754.6,392.1 L755.8,392.2 L757.2,393.6 L758.5,392.8 L759.8,394.1 L761.1,393.1 L762.6,395.2 L763.9,394.0 L765.0,394.1 L766.3,396.8 L767.7,398.8 L769.1,400.1 L770.3,399.5 L771.7,402.0 L773.0,399.9 L774.4,397.8 L775.6,397.0 L776.8,395.9 L778.2,393.8 L779.6,393.2 L780.5,396.3 L781.8,396.9 L783.2,394.6 L784.4,393.2 L785.8,392.2 L787.2,392.9 L788.4,393.9 L789.6,393.2 L791.1,392.3 L792.4,391.2 L793.8,392.9 L794.9,392.1 L796.3,390.3 L797.7,389.0 L798.9,386.8 L800.2,384.4 L801.6,382.9 L802.9,382.1 L804.2,383.8 L805.4,381.7 L806.3,381.3 L807.7,390.0 L808.9,395.9 L810.5,398.5 L811.8,397.7 L813.0,396.3 L814.3,397.8 L815.6,397.1 L817.0,397.7 L818.2,396.4 L820.0,395.8 L821.8,396.3 L823.5,397.5 L824.7,398.1 L826.2,400.7 L827.5,399.1 L828.8,397.3 L830.0,398.4 L831.4,396.5 L832.7,395.5 L834.0,397.7 L835.3,400.7 L836.7,404.0 L838.1,404.9 L839.3,405.4 L840.5,406.7 L841.8,408.3 L843.4,405.7 L844.6,405.4 L845.8,404.5 L847.2,404.9 L848.6,403.1 L849.8,402.0 L851.1,403.2 L852.5,402.4 L853.9,403.7 L855.1,404.1 L856.8,405.0 L858.6,403.8 L859.7,403.1 L861.2,405.2 L862.6,405.9 L863.9,404.2 L865.6,402.6 L867.4,401.0 L868.6,400.3 L869.8,400.9 L870.9,400.9 L871.8,400.7 L873.5,401.3 L874.6,402.2 L876.2,399.3 L877.5,399.3 L878.7,398.7 L880.0,402.6 L881.0,403.7 L882.4,402.2 L883.5,403.2 L884.9,403.0 L886.1,402.0 L887.5,407.9 L888.8,410.6 L890.2,412.0 L891.6,413.6 L892.8,413.8"/>
</g>
<rect x="67.7" y="512.8" width="825.8000000000001" height="2" fill="#333"/>
<text x="59" y="80.3" text-anchor="end">125</text>
<text x="59" y="167.8" text-anchor="end">100</text>
<text x="59" y="255.8" text-anchor="end">75</text>
<text x="59" y="344.0" text-anchor="end">50</text>
<text x="59" y="431.5" text-anchor="end">25</text>
<text x="59" y="519.2" text-anchor="end">0</text>
<text x="67.9" y="538.2" text-anchor="middle">2022-1-1</text>
<text x="207.8" y="538.2" text-anchor="middle">2022-4-1</text>
<text x="350.5" y="538.2" text-anchor="middle">2022-7-1</text>
<text x="493.5" y="538.2" text-anchor="middle">2022-10-1</text>
<text x="637.8" y="538.2" text-anchor="middle">2023-1-1</text>
<text x="777.8" y="538.2" text-anchor="middle">2023-4-1</text>
<rect x="115.2" y="35.0" width="18.5" height="5.0" fill="#4285f4"/>
<text x="147.0" y="43">18 'Security‘ <tspan dx="1.1">Tokens</tspan></text>
<rect x="334.3" y="35.0" width="18.5" height="5.0" fill="#ea4335"/>
<text x="365.9" y="43">TotalMC</text>
<rect x="457.4" y="35.0" width="18.5" height="5.0" fill="#fbbc04"/>
<text x="489.3" y="43">Total MC Ex.BTC</text>
<rect x="654.2" y="35.0" width="18.5" height="5.0" fill="#34a853"/>
<text x="685.2" y="43">All Defi Tokens</text>
</svg>
</body></html>
